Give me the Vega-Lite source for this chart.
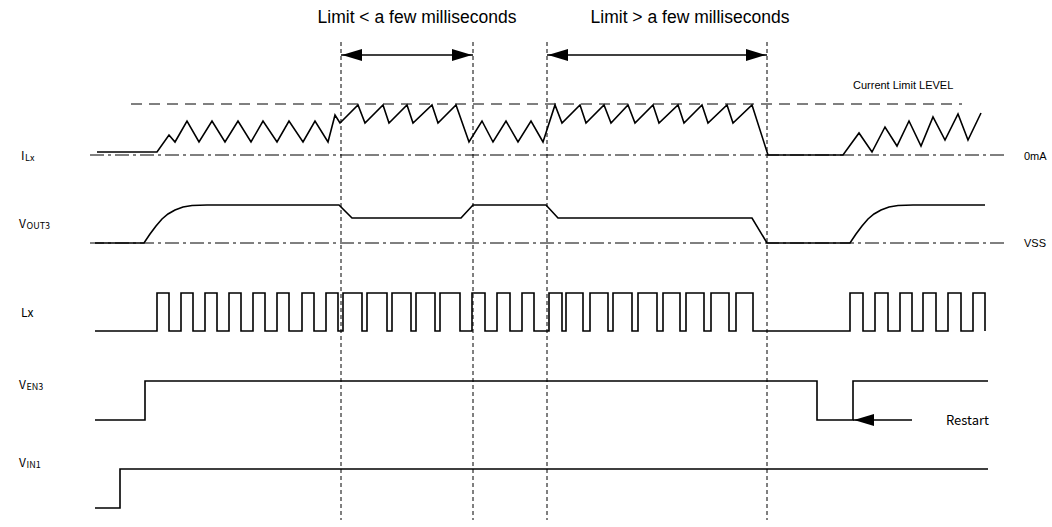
{
  "$schema": "https://vega.github.io/schema/vega-lite/v6.json",
  "width": 1052,
  "height": 527,
  "autosize": {"type": "fit", "contains": "padding"},
  "padding": 0,
  "background": "white",
  "config": {"view": {"stroke": null}},
  "datasets": {
    "waves": [
      {"sig": "ILx", "i": 1, "x": 97, "y": 152}, {"sig": "ILx", "i": 2, "x": 157, "y": 152}, {"sig": "ILx", "i": 3, "x": 169, "y": 135}, {"sig": "ILx", "i": 4, "x": 175, "y": 142},
      {"sig": "ILx", "i": 5, "x": 187, "y": 121}, {"sig": "ILx", "i": 6, "x": 199, "y": 142}, {"sig": "ILx", "i": 7, "x": 212, "y": 121}, {"sig": "ILx", "i": 8, "x": 225, "y": 142},
      {"sig": "ILx", "i": 9, "x": 238, "y": 121}, {"sig": "ILx", "i": 10, "x": 251, "y": 142}, {"sig": "ILx", "i": 11, "x": 263, "y": 121}, {"sig": "ILx", "i": 12, "x": 277, "y": 142},
      {"sig": "ILx", "i": 13, "x": 289, "y": 121}, {"sig": "ILx", "i": 14, "x": 303, "y": 142}, {"sig": "ILx", "i": 15, "x": 315, "y": 121}, {"sig": "ILx", "i": 16, "x": 328, "y": 142},
      {"sig": "ILx", "i": 17, "x": 335, "y": 115}, {"sig": "ILx", "i": 18, "x": 340, "y": 123}, {"sig": "ILx", "i": 19, "x": 358, "y": 105}, {"sig": "ILx", "i": 20, "x": 365, "y": 123},
      {"sig": "ILx", "i": 21, "x": 383, "y": 105}, {"sig": "ILx", "i": 22, "x": 389, "y": 123}, {"sig": "ILx", "i": 23, "x": 407, "y": 105}, {"sig": "ILx", "i": 24, "x": 413, "y": 123},
      {"sig": "ILx", "i": 25, "x": 432, "y": 105}, {"sig": "ILx", "i": 26, "x": 438, "y": 123}, {"sig": "ILx", "i": 27, "x": 456, "y": 105}, {"sig": "ILx", "i": 28, "x": 469, "y": 142},
      {"sig": "ILx", "i": 29, "x": 482, "y": 121}, {"sig": "ILx", "i": 30, "x": 493, "y": 142}, {"sig": "ILx", "i": 31, "x": 506, "y": 121}, {"sig": "ILx", "i": 32, "x": 518, "y": 142},
      {"sig": "ILx", "i": 33, "x": 531, "y": 121}, {"sig": "ILx", "i": 34, "x": 543, "y": 142}, {"sig": "ILx", "i": 35, "x": 555, "y": 105}, {"sig": "ILx", "i": 36, "x": 562, "y": 123},
      {"sig": "ILx", "i": 37, "x": 580, "y": 105}, {"sig": "ILx", "i": 38, "x": 586, "y": 123}, {"sig": "ILx", "i": 39, "x": 604, "y": 105}, {"sig": "ILx", "i": 40, "x": 611, "y": 123},
      {"sig": "ILx", "i": 41, "x": 628, "y": 105}, {"sig": "ILx", "i": 42, "x": 635, "y": 123}, {"sig": "ILx", "i": 43, "x": 653, "y": 105}, {"sig": "ILx", "i": 44, "x": 659, "y": 123},
      {"sig": "ILx", "i": 45, "x": 678, "y": 105}, {"sig": "ILx", "i": 46, "x": 684, "y": 123}, {"sig": "ILx", "i": 47, "x": 702, "y": 105}, {"sig": "ILx", "i": 48, "x": 708, "y": 123},
      {"sig": "ILx", "i": 49, "x": 727, "y": 105}, {"sig": "ILx", "i": 50, "x": 733, "y": 123}, {"sig": "ILx", "i": 51, "x": 752, "y": 105}, {"sig": "ILx", "i": 52, "x": 768, "y": 155},
      {"sig": "ILx", "i": 53, "x": 843, "y": 155}, {"sig": "ILx", "i": 54, "x": 859, "y": 133}, {"sig": "ILx", "i": 55, "x": 872, "y": 152}, {"sig": "ILx", "i": 56, "x": 885, "y": 127},
      {"sig": "ILx", "i": 57, "x": 897, "y": 146}, {"sig": "ILx", "i": 58, "x": 909, "y": 121}, {"sig": "ILx", "i": 59, "x": 921, "y": 146}, {"sig": "ILx", "i": 60, "x": 933, "y": 117},
      {"sig": "ILx", "i": 61, "x": 945, "y": 140}, {"sig": "ILx", "i": 62, "x": 958, "y": 114}, {"sig": "ILx", "i": 63, "x": 968, "y": 140}, {"sig": "ILx", "i": 64, "x": 981, "y": 113},

      {"sig": "VOUT3", "i": 1, "x": 95, "y": 243}, {"sig": "VOUT3", "i": 2, "x": 144, "y": 243}, {"sig": "VOUT3", "i": 3, "x": 150, "y": 234}, {"sig": "VOUT3", "i": 4, "x": 156, "y": 226},
      {"sig": "VOUT3", "i": 5, "x": 162, "y": 219}, {"sig": "VOUT3", "i": 6, "x": 168, "y": 214}, {"sig": "VOUT3", "i": 7, "x": 175, "y": 210}, {"sig": "VOUT3", "i": 8, "x": 183, "y": 207},
      {"sig": "VOUT3", "i": 9, "x": 192, "y": 205.5}, {"sig": "VOUT3", "i": 10, "x": 207, "y": 205}, {"sig": "VOUT3", "i": 11, "x": 339, "y": 205}, {"sig": "VOUT3", "i": 12, "x": 352, "y": 218},
      {"sig": "VOUT3", "i": 13, "x": 461, "y": 218}, {"sig": "VOUT3", "i": 14, "x": 473, "y": 205}, {"sig": "VOUT3", "i": 15, "x": 546, "y": 205}, {"sig": "VOUT3", "i": 16, "x": 558, "y": 218},
      {"sig": "VOUT3", "i": 17, "x": 752, "y": 218}, {"sig": "VOUT3", "i": 18, "x": 767, "y": 243}, {"sig": "VOUT3", "i": 19, "x": 850, "y": 243}, {"sig": "VOUT3", "i": 20, "x": 856, "y": 234},
      {"sig": "VOUT3", "i": 21, "x": 862, "y": 226}, {"sig": "VOUT3", "i": 22, "x": 868, "y": 219}, {"sig": "VOUT3", "i": 23, "x": 874, "y": 214}, {"sig": "VOUT3", "i": 24, "x": 881, "y": 210},
      {"sig": "VOUT3", "i": 25, "x": 889, "y": 207}, {"sig": "VOUT3", "i": 26, "x": 898, "y": 205.5}, {"sig": "VOUT3", "i": 27, "x": 913, "y": 205}, {"sig": "VOUT3", "i": 28, "x": 985, "y": 205},

      {"sig": "Lx", "i": 1, "x": 95, "y": 331}, {"sig": "Lx", "i": 2, "x": 157, "y": 331},
      {"sig": "Lx", "i": 3, "x": 157, "y": 293}, {"sig": "Lx", "i": 4, "x": 169, "y": 293}, {"sig": "Lx", "i": 5, "x": 169, "y": 331}, {"sig": "Lx", "i": 6, "x": 181, "y": 331},
      {"sig": "Lx", "i": 7, "x": 181, "y": 293}, {"sig": "Lx", "i": 8, "x": 193, "y": 293}, {"sig": "Lx", "i": 9, "x": 193, "y": 331}, {"sig": "Lx", "i": 10, "x": 205, "y": 331},
      {"sig": "Lx", "i": 11, "x": 205, "y": 293}, {"sig": "Lx", "i": 12, "x": 217, "y": 293}, {"sig": "Lx", "i": 13, "x": 217, "y": 331}, {"sig": "Lx", "i": 14, "x": 229, "y": 331},
      {"sig": "Lx", "i": 15, "x": 229, "y": 293}, {"sig": "Lx", "i": 16, "x": 241, "y": 293}, {"sig": "Lx", "i": 17, "x": 241, "y": 331}, {"sig": "Lx", "i": 18, "x": 253, "y": 331},
      {"sig": "Lx", "i": 19, "x": 253, "y": 293}, {"sig": "Lx", "i": 20, "x": 265, "y": 293}, {"sig": "Lx", "i": 21, "x": 265, "y": 331}, {"sig": "Lx", "i": 22, "x": 277, "y": 331},
      {"sig": "Lx", "i": 23, "x": 277, "y": 293}, {"sig": "Lx", "i": 24, "x": 289, "y": 293}, {"sig": "Lx", "i": 25, "x": 289, "y": 331}, {"sig": "Lx", "i": 26, "x": 302, "y": 331},
      {"sig": "Lx", "i": 27, "x": 302, "y": 293}, {"sig": "Lx", "i": 28, "x": 314, "y": 293}, {"sig": "Lx", "i": 29, "x": 314, "y": 331}, {"sig": "Lx", "i": 30, "x": 326, "y": 331},
      {"sig": "Lx", "i": 31, "x": 326, "y": 293}, {"sig": "Lx", "i": 32, "x": 338, "y": 293}, {"sig": "Lx", "i": 33, "x": 338, "y": 331}, {"sig": "Lx", "i": 34, "x": 343, "y": 331},
      {"sig": "Lx", "i": 35, "x": 343, "y": 293}, {"sig": "Lx", "i": 36, "x": 362, "y": 293}, {"sig": "Lx", "i": 37, "x": 362, "y": 331}, {"sig": "Lx", "i": 38, "x": 367, "y": 331},
      {"sig": "Lx", "i": 39, "x": 367, "y": 293}, {"sig": "Lx", "i": 40, "x": 387, "y": 293}, {"sig": "Lx", "i": 41, "x": 387, "y": 331}, {"sig": "Lx", "i": 42, "x": 392, "y": 331},
      {"sig": "Lx", "i": 43, "x": 392, "y": 293}, {"sig": "Lx", "i": 44, "x": 411, "y": 293}, {"sig": "Lx", "i": 45, "x": 411, "y": 331}, {"sig": "Lx", "i": 46, "x": 416, "y": 331},
      {"sig": "Lx", "i": 47, "x": 416, "y": 293}, {"sig": "Lx", "i": 48, "x": 435, "y": 293}, {"sig": "Lx", "i": 49, "x": 435, "y": 331}, {"sig": "Lx", "i": 50, "x": 440, "y": 331},
      {"sig": "Lx", "i": 51, "x": 440, "y": 293}, {"sig": "Lx", "i": 52, "x": 460, "y": 293}, {"sig": "Lx", "i": 53, "x": 460, "y": 331}, {"sig": "Lx", "i": 54, "x": 472, "y": 331},
      {"sig": "Lx", "i": 55, "x": 472, "y": 293}, {"sig": "Lx", "i": 56, "x": 485, "y": 293}, {"sig": "Lx", "i": 57, "x": 485, "y": 331}, {"sig": "Lx", "i": 58, "x": 497, "y": 331},
      {"sig": "Lx", "i": 59, "x": 497, "y": 293}, {"sig": "Lx", "i": 60, "x": 510, "y": 293}, {"sig": "Lx", "i": 61, "x": 510, "y": 331}, {"sig": "Lx", "i": 62, "x": 522, "y": 331},
      {"sig": "Lx", "i": 63, "x": 522, "y": 293}, {"sig": "Lx", "i": 64, "x": 534, "y": 293}, {"sig": "Lx", "i": 65, "x": 534, "y": 331}, {"sig": "Lx", "i": 66, "x": 549, "y": 331},
      {"sig": "Lx", "i": 67, "x": 549, "y": 293}, {"sig": "Lx", "i": 68, "x": 562, "y": 293}, {"sig": "Lx", "i": 69, "x": 562, "y": 331}, {"sig": "Lx", "i": 70, "x": 566, "y": 331},
      {"sig": "Lx", "i": 71, "x": 566, "y": 293}, {"sig": "Lx", "i": 72, "x": 583, "y": 293}, {"sig": "Lx", "i": 73, "x": 583, "y": 331}, {"sig": "Lx", "i": 74, "x": 590, "y": 331},
      {"sig": "Lx", "i": 75, "x": 590, "y": 293}, {"sig": "Lx", "i": 76, "x": 608, "y": 293}, {"sig": "Lx", "i": 77, "x": 608, "y": 331}, {"sig": "Lx", "i": 78, "x": 613, "y": 331},
      {"sig": "Lx", "i": 79, "x": 613, "y": 293}, {"sig": "Lx", "i": 80, "x": 632, "y": 293}, {"sig": "Lx", "i": 81, "x": 632, "y": 331}, {"sig": "Lx", "i": 82, "x": 638, "y": 331},
      {"sig": "Lx", "i": 83, "x": 638, "y": 293}, {"sig": "Lx", "i": 84, "x": 657, "y": 293}, {"sig": "Lx", "i": 85, "x": 657, "y": 331}, {"sig": "Lx", "i": 86, "x": 663, "y": 331},
      {"sig": "Lx", "i": 87, "x": 663, "y": 293}, {"sig": "Lx", "i": 88, "x": 680, "y": 293}, {"sig": "Lx", "i": 89, "x": 680, "y": 331}, {"sig": "Lx", "i": 90, "x": 686, "y": 331},
      {"sig": "Lx", "i": 91, "x": 686, "y": 293}, {"sig": "Lx", "i": 92, "x": 704, "y": 293}, {"sig": "Lx", "i": 93, "x": 704, "y": 331}, {"sig": "Lx", "i": 94, "x": 711, "y": 331},
      {"sig": "Lx", "i": 95, "x": 711, "y": 293}, {"sig": "Lx", "i": 96, "x": 729, "y": 293}, {"sig": "Lx", "i": 97, "x": 729, "y": 331}, {"sig": "Lx", "i": 98, "x": 736, "y": 331},
      {"sig": "Lx", "i": 99, "x": 736, "y": 293}, {"sig": "Lx", "i": 100, "x": 753, "y": 293}, {"sig": "Lx", "i": 101, "x": 753, "y": 331}, {"sig": "Lx", "i": 102, "x": 850, "y": 331},
      {"sig": "Lx", "i": 103, "x": 850, "y": 293}, {"sig": "Lx", "i": 104, "x": 863, "y": 293}, {"sig": "Lx", "i": 105, "x": 863, "y": 331}, {"sig": "Lx", "i": 106, "x": 875, "y": 331},
      {"sig": "Lx", "i": 107, "x": 875, "y": 293}, {"sig": "Lx", "i": 108, "x": 888, "y": 293}, {"sig": "Lx", "i": 109, "x": 888, "y": 331}, {"sig": "Lx", "i": 110, "x": 900, "y": 331},
      {"sig": "Lx", "i": 111, "x": 900, "y": 293}, {"sig": "Lx", "i": 112, "x": 912, "y": 293}, {"sig": "Lx", "i": 113, "x": 912, "y": 331}, {"sig": "Lx", "i": 114, "x": 923, "y": 331},
      {"sig": "Lx", "i": 115, "x": 923, "y": 293}, {"sig": "Lx", "i": 116, "x": 936, "y": 293}, {"sig": "Lx", "i": 117, "x": 936, "y": 331}, {"sig": "Lx", "i": 118, "x": 948, "y": 331},
      {"sig": "Lx", "i": 119, "x": 948, "y": 293}, {"sig": "Lx", "i": 120, "x": 961, "y": 293}, {"sig": "Lx", "i": 121, "x": 961, "y": 331}, {"sig": "Lx", "i": 122, "x": 973, "y": 331},
      {"sig": "Lx", "i": 123, "x": 973, "y": 293}, {"sig": "Lx", "i": 124, "x": 985, "y": 293}, {"sig": "Lx", "i": 125, "x": 985, "y": 331},

      {"sig": "VEN3", "i": 1, "x": 95, "y": 420}, {"sig": "VEN3", "i": 2, "x": 145, "y": 420}, {"sig": "VEN3", "i": 3, "x": 145, "y": 381}, {"sig": "VEN3", "i": 4, "x": 817, "y": 381},
      {"sig": "VEN3", "i": 5, "x": 817, "y": 420}, {"sig": "VEN3", "i": 6, "x": 853, "y": 420}, {"sig": "VEN3", "i": 7, "x": 853, "y": 381}, {"sig": "VEN3", "i": 8, "x": 988, "y": 381},

      {"sig": "VIN1", "i": 1, "x": 95, "y": 508}, {"sig": "VIN1", "i": 2, "x": 120, "y": 508}, {"sig": "VIN1", "i": 3, "x": 120, "y": 469}, {"sig": "VIN1", "i": 4, "x": 988, "y": 469}
    ],
    "baselines": [
      {"name": "0mA", "x": 90, "x2": 1005, "y": 155},
      {"name": "VSS", "x": 90, "x2": 1005, "y": 243}
    ],
    "limitline": [
      {"name": "Current Limit LEVEL", "x": 131, "x2": 962, "y": 104}
    ],
    "markers": [
      {"x": 341, "y": 42, "y2": 520},
      {"x": 473, "y": 42, "y2": 520},
      {"x": 547, "y": 42, "y2": 520},
      {"x": 767, "y": 42, "y2": 520}
    ],
    "spans": [
      {"label": "short", "x": 341, "x2": 473, "y": 55},
      {"label": "long", "x": 547, "x2": 767, "y": 55},
      {"label": "restart", "x": 853, "x2": 912, "y": 420}
    ],
    "heads": [
      {"x": 342, "y": 55, "dir": "left"},
      {"x": 472, "y": 55, "dir": "right"},
      {"x": 548, "y": 55, "dir": "left"},
      {"x": 766, "y": 55, "dir": "right"},
      {"x": 854, "y": 420, "dir": "left"}
    ],
    "titles": [
      {"text": "Limit < a few milliseconds", "x": 417, "y": 18},
      {"text": "Limit > a few milliseconds", "x": 690, "y": 18}
    ],
    "mainlabels": [
      {"text": "I", "x": 21, "y": 156},
      {"text": "V", "x": 19, "y": 224},
      {"text": "Lx", "x": 21, "y": 313},
      {"text": "V", "x": 19, "y": 385},
      {"text": "V", "x": 19, "y": 463}
    ],
    "sublabels": [
      {"text": "Lx", "x": 25, "y": 158},
      {"text": "OUT3", "x": 26.5, "y": 226},
      {"text": "EN3", "x": 26.5, "y": 387},
      {"text": "IN1", "x": 26.5, "y": 465}
    ],
    "notes": [
      {"text": "Current Limit LEVEL", "x": 853, "y": 86},
      {"text": "0mA", "x": 1024, "y": 157},
      {"text": "VSS", "x": 1024, "y": 244}
    ],
    "restart": [
      {"text": "Restart", "x": 946, "y": 421}
    ]
  },
  "layer": [
    {
      "data": {"name": "baselines"},
      "mark": {"type": "rule", "color": "black", "strokeWidth": 1, "strokeDash": [14, 4, 3, 4]},
      "encoding": {
        "x": {"field": "x", "type": "quantitative", "scale": {"domain": [0, 1052], "nice": false, "zero": false}, "axis": null},
        "x2": {"field": "x2"},
        "y": {"field": "y", "type": "quantitative", "scale": {"domain": [0, 527], "nice": false, "zero": false, "reverse": true}, "axis": null}
      }
    },
    {
      "data": {"name": "limitline"},
      "mark": {"type": "rule", "color": "black", "strokeWidth": 1, "strokeDash": [11, 7]},
      "encoding": {
        "x": {"field": "x", "type": "quantitative", "axis": null},
        "x2": {"field": "x2"},
        "y": {"field": "y", "type": "quantitative", "axis": null}
      }
    },
    {
      "data": {"name": "markers"},
      "mark": {"type": "rule", "color": "black", "strokeWidth": 1, "strokeDash": [4, 3]},
      "encoding": {
        "x": {"field": "x", "type": "quantitative", "axis": null},
        "y": {"field": "y", "type": "quantitative", "axis": null},
        "y2": {"field": "y2"}
      }
    },
    {
      "data": {"name": "waves"},
      "mark": {"type": "line", "color": "black", "strokeWidth": 1.6, "strokeJoin": "miter", "interpolate": "linear"},
      "encoding": {
        "x": {"field": "x", "type": "quantitative", "axis": null},
        "y": {"field": "y", "type": "quantitative", "axis": null},
        "detail": {"field": "sig"},
        "order": {"field": "i", "type": "quantitative"}
      }
    },
    {
      "data": {"name": "spans"},
      "mark": {"type": "rule", "color": "black", "strokeWidth": 1.6},
      "encoding": {
        "x": {"field": "x", "type": "quantitative", "axis": null},
        "x2": {"field": "x2"},
        "y": {"field": "y", "type": "quantitative", "axis": null}
      }
    },
    {
      "data": {"name": "heads"},
      "mark": {"type": "point", "filled": true, "color": "black", "opacity": 1, "size": 100, "strokeWidth": 0},
      "encoding": {
        "x": {"field": "x", "type": "quantitative", "axis": null},
        "y": {"field": "y", "type": "quantitative", "axis": null},
        "shape": {"field": "dir", "type": "nominal", "legend": null,
          "scale": {"domain": ["left", "right"], "range": ["M 0 0 L 4 -1.2 L 4 1.2 Z", "M 0 0 L -4 -1.2 L -4 1.2 Z"]}}
      }
    },
    {
      "data": {"name": "titles"},
      "mark": {"type": "text", "font": "Liberation Sans", "fontSize": 17.5, "align": "center", "baseline": "middle", "color": "black"},
      "encoding": {
        "x": {"field": "x", "type": "quantitative", "axis": null},
        "y": {"field": "y", "type": "quantitative", "axis": null},
        "text": {"field": "text"}
      }
    },
    {
      "data": {"name": "mainlabels"},
      "mark": {"type": "text", "font": "Noto Sans CJK JP", "fontSize": 12, "align": "left", "baseline": "middle", "color": "black"},
      "encoding": {
        "x": {"field": "x", "type": "quantitative", "axis": null},
        "y": {"field": "y", "type": "quantitative", "axis": null},
        "text": {"field": "text"}
      }
    },
    {
      "data": {"name": "sublabels"},
      "mark": {"type": "text", "font": "Noto Sans CJK JP", "fontSize": 9, "align": "left", "baseline": "middle", "color": "black"},
      "encoding": {
        "x": {"field": "x", "type": "quantitative", "axis": null},
        "y": {"field": "y", "type": "quantitative", "axis": null},
        "text": {"field": "text"}
      }
    },
    {
      "data": {"name": "notes"},
      "mark": {"type": "text", "font": "Liberation Sans", "fontSize": 11, "align": "left", "baseline": "middle", "color": "black"},
      "encoding": {
        "x": {"field": "x", "type": "quantitative", "axis": null},
        "y": {"field": "y", "type": "quantitative", "axis": null},
        "text": {"field": "text"}
      }
    },
    {
      "data": {"name": "restart"},
      "mark": {"type": "text", "font": "Noto Sans CJK JP", "fontSize": 13, "align": "left", "baseline": "middle", "color": "black"},
      "encoding": {
        "x": {"field": "x", "type": "quantitative", "axis": null},
        "y": {"field": "y", "type": "quantitative", "axis": null},
        "text": {"field": "text"}
      }
    }
  ]
}
